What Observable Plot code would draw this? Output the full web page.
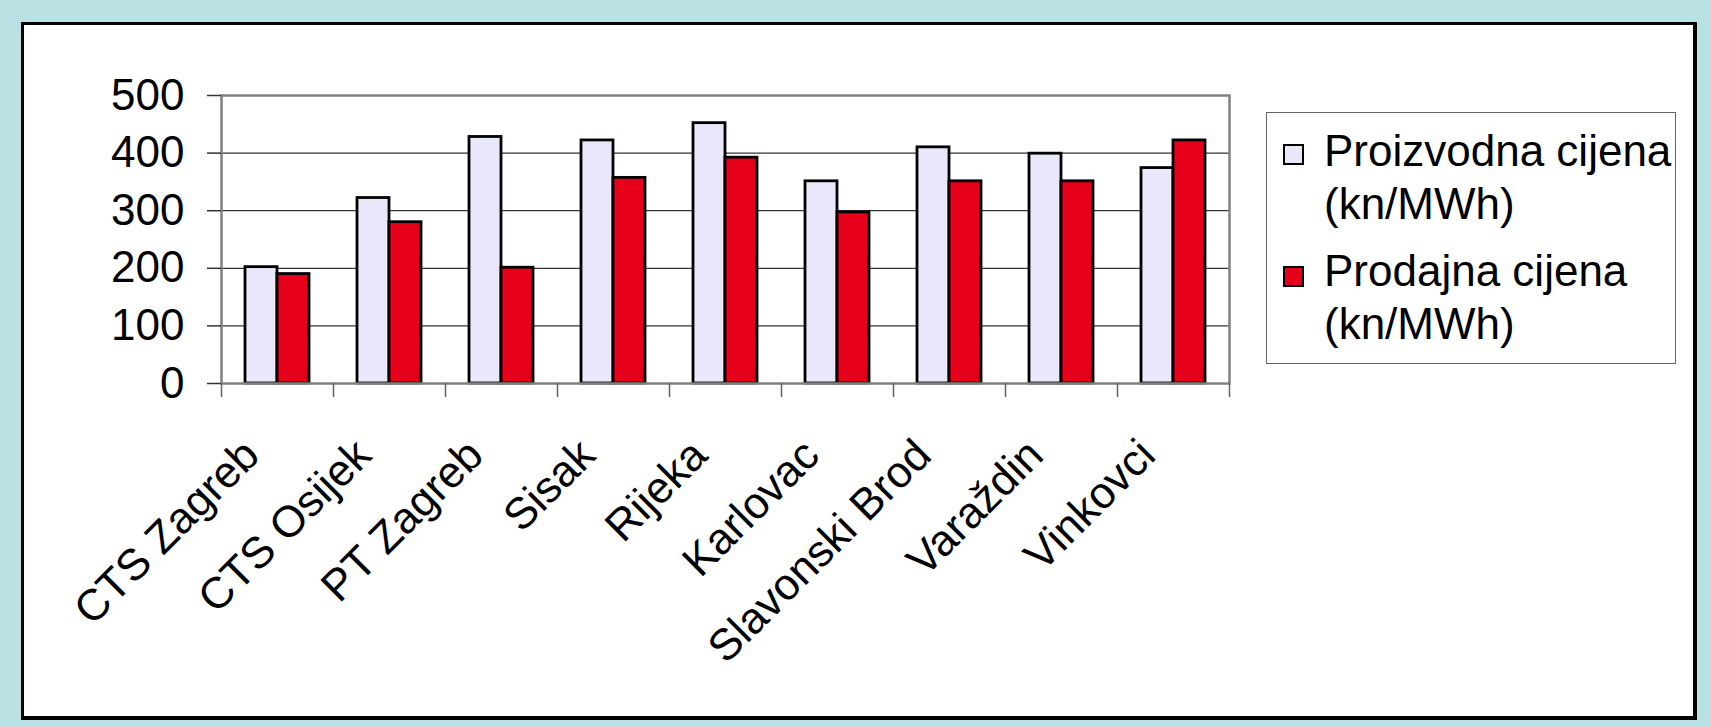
<!DOCTYPE html>
<html>
<head>
<meta charset="utf-8">
<script src="https://cdn.jsdelivr.net/npm/d3@7"></script>
<script src="https://cdn.jsdelivr.net/npm/@observablehq/plot@0.6"></script>
<style>
  html, body { margin: 0; padding: 0; background: #b9e0e3; }
  #page { position: relative; width: 1711px; height: 727px; background: #b9e0e3; overflow: hidden;
          font-family: 'Liberation Sans', Arial, sans-serif; }
  #panel { position: absolute; left: 21px; top: 22px; width: 1669px; height: 691px;
           background: #fff; border: 3px solid #000; border-right-width: 4px; border-bottom-width: 4px; }
  #chart { position: absolute; left: 0; top: 0; }
  #legend { position: absolute; left: 1266px; top: 112px; width: 410px; height: 252px;
            border: 1.5px solid #666; background: #fff; box-sizing: border-box; }
  .item { position: absolute; left: 57px; font-size: 44px; line-height: 53px; color: #000; white-space: nowrap; }
  .sw { position: absolute; left: 16px; width: 17px; height: 17px; border: 2px solid #000; }
</style>
</head>
<body>
<div id="page">
  <div id="panel"></div>
  <div id="chart"></div>
  <div id="legend"></div>
</div>
<script>
const categories = ["CTS Zagreb", "CTS Osijek", "PT Zagreb", "Sisak", "Rijeka", "Karlovac", "Slavonski Brod", "Varaždin", "Vinkovci"];
const proizvodna = [202, 322, 428, 422, 452, 351, 410, 399, 374];
const prodajna = [190, 280, 201, 357, 392, 297, 351, 351, 422];
const seriesNames = ["Proizvodna cijena (kn/MWh)", "Prodajna cijena (kn/MWh)"];
const seriesColors = ["#e8e8fa", "#e60019"];
const yTicks = [0, 100, 200, 300, 400, 500];
const gridValues = [100, 200, 300, 400];

const rowsA = categories.map((c, i) => ({category: c, value: proizvodna[i]}));
const rowsB = categories.map((c, i) => ({category: c, value: prodajna[i]}));

const chart = Plot.plot({
  width: 1711,
  height: 727,
  marginLeft: 221,
  marginRight: 482,
  marginTop: 95,
  marginBottom: 344,
  style: {background: "transparent", fontFamily: "'Liberation Sans', Arial, sans-serif", overflow: "visible", color: "#000"},
  x: {domain: categories, padding: 0, axis: null},
  y: {domain: [0, 500], axis: null},
  marks: [
    Plot.ruleY(gridValues, {stroke: "#000", strokeWidth: 1}),
    Plot.barY(rowsA, {x: "category", y: "value", fill: seriesColors[0], stroke: "#000", strokeWidth: 2.8, insetLeft: 24, insetRight: 56}),
    Plot.barY(rowsB, {x: "category", y: "value", fill: seriesColors[1], stroke: "#000", strokeWidth: 2.8, insetLeft: 56, insetRight: 24}),
    Plot.frame({stroke: "#808080", strokeWidth: 2.5}),
    Plot.axisY({ticks: yTicks, label: null, tickSize: 14, tickPadding: 23, fontSize: 44, stroke: "#333", strokeWidth: 1.5}),
    Plot.ruleX(categories, {x: d => d, dx: -56, insetTop: 288, insetBottom: -14, stroke: "#666", strokeWidth: 1.5}),
    Plot.ruleX(categories.slice(-1), {x: d => d, dx: 56, insetTop: 288, insetBottom: -14, stroke: "#666", strokeWidth: 1.5}),
    Plot.text(categories, {x: d => d, frameAnchor: "bottom", rotate: -45, textAnchor: "end", lineAnchor: "top", dx: -38, dy: 52, fontSize: 44, fill: "#000"})
  ]
});
document.getElementById("chart").appendChild(chart);

// legend
const legend = document.getElementById("legend");
const itemTops = [11, 131];
const swTops = [31, 153];
seriesNames.forEach((name, i) => {
  const sw = document.createElement("div");
  sw.className = "sw";
  sw.style.top = swTops[i] + "px";
  sw.style.background = seriesColors[i];
  legend.appendChild(sw);
  const it = document.createElement("div");
  it.className = "item";
  it.style.top = itemTops[i] + "px";
  const parts = name.split(" (");
  it.innerHTML = parts[0] + "<br>(" + parts[1];
  legend.appendChild(it);
});
</script>
</body>
</html>
